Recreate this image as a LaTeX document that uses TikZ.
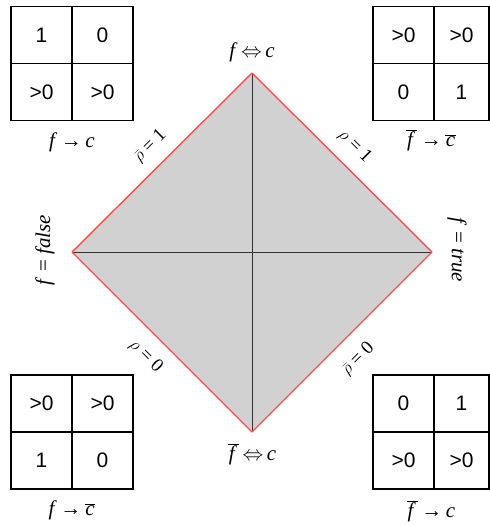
\documentclass[tikz,border=0pt]{standalone}
\usepackage{fontspec}
\setmainfont{Liberation Serif}
\newfontfamily\numfont{Liberation Sans}
\tikzset{
  cell/.style={draw, line width=1.8pt, minimum width=61pt, minimum height=57pt, inner sep=0pt,
    font=\numfont\fontsize{21}{24}\selectfont},
  cellr/.style={cell, minimum width=55pt},
  lab/.style={font=\fontsize{21}{24}\selectfont, inner sep=1pt},
  elab/.style={font=\fontsize{19}{22}\selectfont, inner sep=0pt},
  edge/.style={draw=red!70!white, line width=1.4pt},
  axis/.style={draw=black!80, line width=1pt}
}
\newcommand{\fb}{\overline{\mbox{\kern1pt\textit{f}\kern2pt}}}
\newcommand{\cb}{\overline{\mbox{\kern0.5pt\textit{c}\kern0.5pt}}}
\begin{document}
\begin{tikzpicture}[x=1pt,y=-1pt]
\useasboundingbox (0,0) rectangle (490,525);
% diamond
\coordinate (T) at (252,73);
\coordinate (B) at (252,432);
\coordinate (L) at (72,252);
\coordinate (R) at (432,252);
\fill[black!18] (T) -- (R) -- (B) -- (L) -- cycle;
\draw[axis] (T) -- (B);
\draw[axis] (L) -- (R);
\draw[edge] (L) -- (T);
\draw[edge] (T) -- (R);
\draw[edge] (R) -- (B);
\draw[edge] (B) -- (L);
% vertex labels
\node[lab] (lt) at (252,52) {\textit{f}\,$\Leftrightarrow$\,\textit{c}};
\node[lab] (lb) at (252,454) {$\fb$\,$\Leftrightarrow$\,\textit{c}};
\node[lab, rotate=90] (ll) at (45,250) {\textit{f} = \textit{false}};
\node[lab, rotate=-90] (lr) at (457,250) {\textit{f} = \textit{true}};
% edge labels
\node[elab, rotate=45] (e1) at (150,146) {$\bar{\rho}$ = 1};
\node[elab, rotate=-45] (e2) at (355,146) {$\rho$ = 1};
\node[elab, rotate=-45] (e3) at (146,356) {$\rho$ = 0};
\node[elab, rotate=45] (e4) at (358,359) {$\bar{\rho}$ = 0};
% top-left grid
\node[cell] (a11) at (41.5,35) {1};
\node[cell] (a12) at (102.5,35) {0};
\node[cell] (a21) at (41.5,92) {>0};
\node[cell] (a22) at (102.5,92) {>0};
\node[lab] (ga) at (72,142) {\textit{f}\,→\,\textit{c}};
% top-right grid
\node[cell] (b11) at (403.5,35) {>0};
\node[cellr] (b12) at (461.5,35) {>0};
\node[cell] (b21) at (403.5,92) {0};
\node[cellr] (b22) at (461.5,92) {1};
\node[lab] (gb) at (431,140) {$\fb$\,→\,$\cb$};
% bottom-left grid
\node[cell] (c11) at (41.5,403.5) {>0};
\node[cell] (c12) at (102.5,403.5) {>0};
\node[cell] (c21) at (41.5,460.5) {1};
\node[cell] (c22) at (102.5,460.5) {0};
\node[lab] (gc) at (72,510) {\textit{f}\,→\,$\cb$};
% bottom-right grid
\node[cell] (d11) at (403.5,403.5) {0};
\node[cellr] (d12) at (461.5,403.5) {1};
\node[cell] (d21) at (403.5,460.5) {>0};
\node[cellr] (d22) at (461.5,460.5) {>0};
\node[lab] (gd) at (431,511) {$\fb$\,→\,\textit{c}};
\end{tikzpicture}
\end{document}
